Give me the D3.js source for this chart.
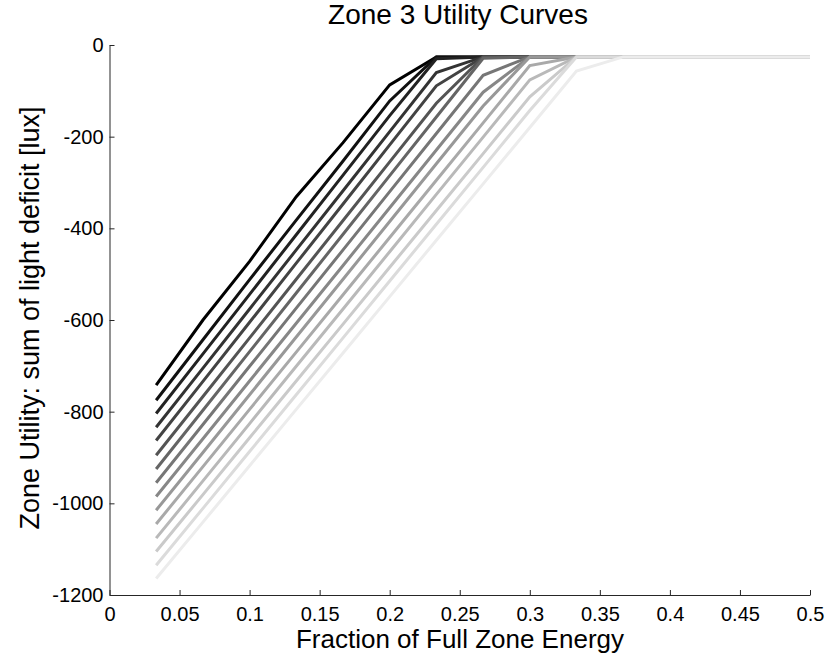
<!DOCTYPE html>
<html><head><meta charset="utf-8">
<script src="https://cdn.jsdelivr.net/npm/d3@7"></script>
<style>body{margin:0;background:#fff;} text{font-family:"Liberation Sans",Arial,Helvetica,sans-serif;}</style>
</head><body>
<svg id="chart" width="830" height="655"></svg>
<script>
const fractions = [0.0333, 0.0667, 0.1, 0.1333, 0.1667, 0.2, 0.2333, 0.2667, 0.3, 0.3333, 0.3667, 0.4, 0.4333, 0.4667, 0.5];
const curve01 = [-742, -600, -472, -331, -213, -87, -26, -26, -26, -26, -26, -26, -26, -26, -26];
const curve02 = [-775, -643, -512, -382, -253, -122, -26, -26, -26, -26, -26, -26, -26, -26, -26];
const curve03 = [-804, -674, -544, -414, -284, -154, -30, -26, -26, -26, -26, -26, -26, -26, -26];
const curve04 = [-834, -705, -576, -447, -318, -189, -60, -26, -26, -26, -26, -26, -26, -26, -26];
const curve05 = [-863, -734, -605, -476, -347, -218, -89, -26, -26, -26, -26, -26, -26, -26, -26];
const curve06 = [-895, -767, -639, -511, -383, -255, -127, -26, -26, -26, -26, -26, -26, -26, -26];
const curve07 = [-925, -797, -669, -541, -413, -285, -157, -29, -26, -26, -26, -26, -26, -26, -26];
const curve08 = [-955, -828, -701, -574, -447, -320, -193, -66, -26, -26, -26, -26, -26, -26, -26];
const curve09 = [-985, -859, -733, -607, -481, -355, -229, -103, -26, -26, -26, -26, -26, -26, -26];
const curve10 = [-1015, -889, -763, -637, -511, -385, -259, -133, -26, -26, -26, -26, -26, -26, -26];
const curve11 = [-1045, -920, -795, -670, -545, -420, -295, -170, -45, -26, -26, -26, -26, -26, -26];
const curve12 = [-1076, -951, -826, -701, -576, -451, -326, -201, -76, -26, -26, -26, -26, -26, -26];
const curve13 = [-1105, -981, -857, -733, -609, -485, -361, -237, -113, -26, -26, -26, -26, -26, -26];
const curve14 = [-1135, -1011, -887, -763, -639, -515, -391, -267, -143, -26, -26, -26, -26, -26, -26];
const curve15 = [-1164, -1041, -918, -795, -672, -549, -426, -303, -180, -57, -26, -26, -26, -26, -26];
const curves = [curve01, curve02, curve03, curve04, curve05, curve06, curve07, curve08, curve09, curve10, curve11, curve12, curve13, curve14, curve15];
const xTicks = [0, 0.05, 0.1, 0.15, 0.2, 0.25, 0.3, 0.35, 0.4, 0.45, 0.5];
const yTicks = [0, -200, -400, -600, -800, -1000, -1200];
const titleText = "Zone 3 Utility Curves";
const xLabelText = "Fraction of Full Zone Energy";
const yLabelText = "Zone Utility: sum of light deficit [lux]";

const svg = d3.select("#chart");
const mLeft = 109.5, mRight = 810, mTop = 45, mBottom = 595;
const x = d3.scaleLinear().domain([0, 0.5]).range([mLeft, mRight]);
const y = d3.scaleLinear().domain([-1200, 0]).range([mBottom, mTop]);
const gray = d3.scaleLinear().domain([0, curves.length - 1]).range([0, 236]);

const line = d3.line().x((d, i) => x(fractions[i])).y(d => y(d));
svg.append("g").selectAll("path").data(curves).join("path")
  .attr("d", d => line(d))
  .attr("fill", "none")
  .attr("stroke", (d, i) => { const g = Math.round(gray(i)); return `rgb(${g},${g},${g})`; })
  .attr("stroke-width", 3)
  .attr("stroke-linejoin", "miter");

const xAxis = d3.axisBottom(x).tickValues(xTicks).tickSizeInner(-5).tickSizeOuter(0).tickPadding(12)
  .tickFormat(d => String(+d.toFixed(2)));
const gx = svg.append("g").attr("transform", `translate(0,${mBottom})`).call(xAxis);
const yAxis = d3.axisLeft(y).tickValues(yTicks).tickSizeInner(-5).tickSizeOuter(0).tickPadding(6)
  .tickFormat(d => String(d));
const gy = svg.append("g").attr("transform", `translate(${mLeft},0)`).call(yAxis);
[gx, gy].forEach(g => {
  g.selectAll(".domain").attr("stroke", "#262626").attr("stroke-width", 1);
  g.selectAll(".tick line").attr("stroke", "#262626");
  g.selectAll("text").attr("fill", "#000").style("font-size", "20px");
});

svg.append("text").attr("x", 458).attr("y", 24).attr("text-anchor", "middle")
  .style("font-size", "28px").text(titleText);
svg.append("text").attr("x", 460).attr("y", 648).attr("text-anchor", "middle")
  .style("font-size", "26px").text(xLabelText);
svg.append("text").attr("transform", `translate(39,318) rotate(-90)`)
  .attr("text-anchor", "middle").style("font-size", "27px").text(yLabelText);
</script>
</body></html>
